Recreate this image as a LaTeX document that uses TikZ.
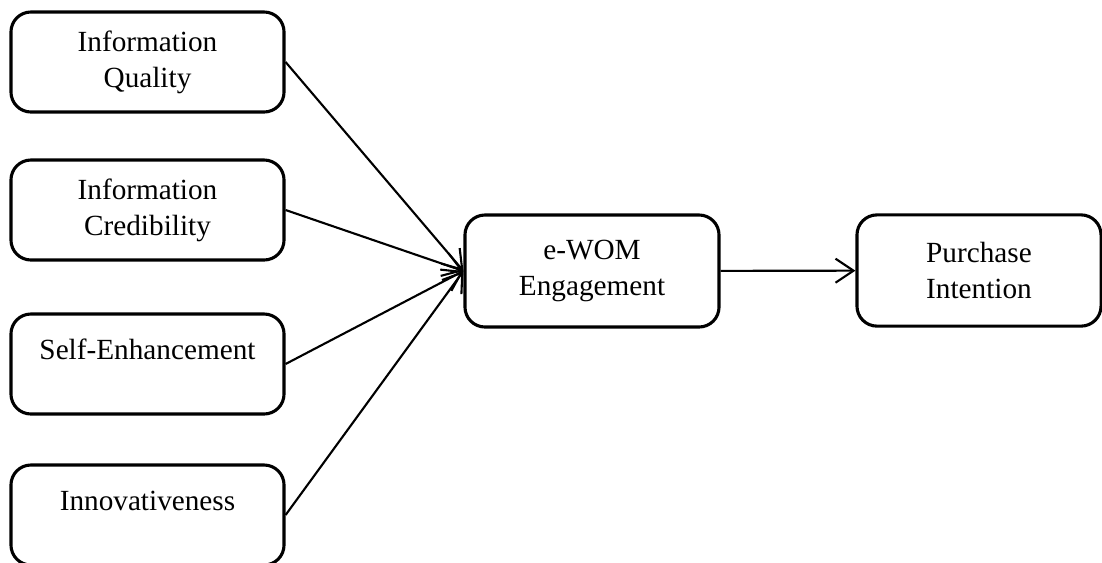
\documentclass[tikz,border=0pt]{standalone}
\usepackage{fontspec}
\setmainfont{Liberation Serif}
\usetikzlibrary{positioning, arrows.meta}
\tikzset{
  factor/.style={
    draw,
    rectangle,
    rounded corners=0.5cm,
    line width=2.2pt,
    minimum width=6.825cm,
    minimum height=2.5cm,
    align=center,
    font=\fontsize{20.8}{25.6}\selectfont
  },
  link/.style={
    line width=1.5pt,
    -{Straight Barb[length=0.45cm, width=0.6cm, line width=1.5pt]}
  }
}
\begin{document}
\begin{tikzpicture}[x=0.025cm, y=-0.025cm]
    \useasboundingbox (0,0) rectangle (1102,562);
    \node[factor] (quality) at (147.5,62) {Information\\Quality};
    \node[factor] (cred) at (147.5,210) {Information\\Credibility};
    \node[factor] (self) at (147.5,364) {Self-Enhancement\\[-0.45cm]\strut};
    \node[factor] (innov) at (147.5,515) {Innovativeness\\[-0.45cm]\strut};
    \node[factor, minimum width=6.35cm, minimum height=2.8cm] (ewom) at (592,271) {e-WOM\\Engagement};
    \node[factor, minimum width=6.1cm, minimum height=2.78cm] (intent) at (979,270.5) {Purchase\\Intention};

    \draw[link] (quality.east) -- (ewom.west);
    \draw[link] (cred.east) -- (ewom.west);
    \draw[link] (self.east) -- (ewom.west);
    \draw[link] (innov.east) -- (ewom.west);
    \draw[link] (ewom) -- (intent);
\end{tikzpicture}
\end{document}
